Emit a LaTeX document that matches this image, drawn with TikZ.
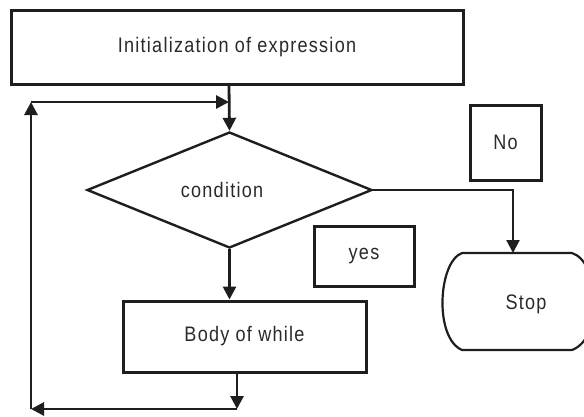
\documentclass[tikz,border=0pt]{standalone}
\usepackage{fontspec}
\setmainfont{Liberation Sans}[FakeStretch=0.86, LetterSpace=6]
\usetikzlibrary{shapes.geometric,arrows.meta}
\definecolor{ink}{HTML}{1E1E1E}
\definecolor{txt}{HTML}{2A2A2A}
\newcommand\lbl{\fontsize{21}{24}\selectfont}
\begin{document}
\begin{tikzpicture}[x=1pt,y=-1pt,
  box/.style={draw=ink, line width=3pt, rectangle, inner sep=0pt, text=txt, font=\lbl},
  decision/.style={draw=ink, line width=2.4pt, diamond, inner sep=0pt, text=txt, font=\lbl},
  flow/.style={draw=ink, line width=2.8pt, -{Triangle[length=13pt,width=13pt]}},
  thinflow/.style={draw=ink, line width=2.2pt, -{Triangle[length=13pt,width=13pt]}}]
\useasboundingbox (0,0) rectangle (584,416);
\clip (0,0) rectangle (584,416);
\fill[white] (0,0) rectangle (584,416);

% boxes
\node[box, minimum width=452pt, minimum height=74pt] (init) at (237,47) {Initialization of expression};
\node[decision, minimum width=285pt, minimum height=116pt] (cond) at (229.5,190) {};
\node[text=txt, font=\lbl] (condtxt) at (222,190) {condition};
\node[box, minimum width=243pt, minimum height=71pt] (body) at (244.5,336.5) {Body of while};
\node[box, minimum width=71pt, minimum height=75pt] (no) at (505.5,142.5) {No};
\node[box, minimum width=100pt, minimum height=60pt] (yes) at (364,256) {yes};

% terminator
\draw[ink, line width=2.2pt]
  (462,253) -- (572,253)
  .. controls (600,262) and (604,338) .. (572,350)
  -- (462,350)
  .. controls (434,338) and (438,262) .. cycle;
\node[text=txt, font=\lbl] (stop) at (526,304) {Stop};
\coordinate (stoptop) at (513,253);

% connector points
\coordinate (loopin) at (229,102);
\coordinate (bodyout) at (237,372);
\coordinate (botmid) at (237,409);
\coordinate (botleft) at (31,409);
\coordinate (topleft) at (31,102);
\coordinate (noturn) at (513,190);

% connectors
\draw[flow] (init.south -| loopin) -- (cond.north);
\draw[flow] (cond.south) -- (body.north -| cond.south);
\draw[thinflow] (cond.east) -- (noturn) -- (stoptop);
\draw[flow] (bodyout) -- (botmid);
\draw[flow] (botmid) -- (botleft);
\draw[flow] (botleft) -- (topleft);
\draw[flow] (topleft) -- (loopin);
\end{tikzpicture}
\end{document}
